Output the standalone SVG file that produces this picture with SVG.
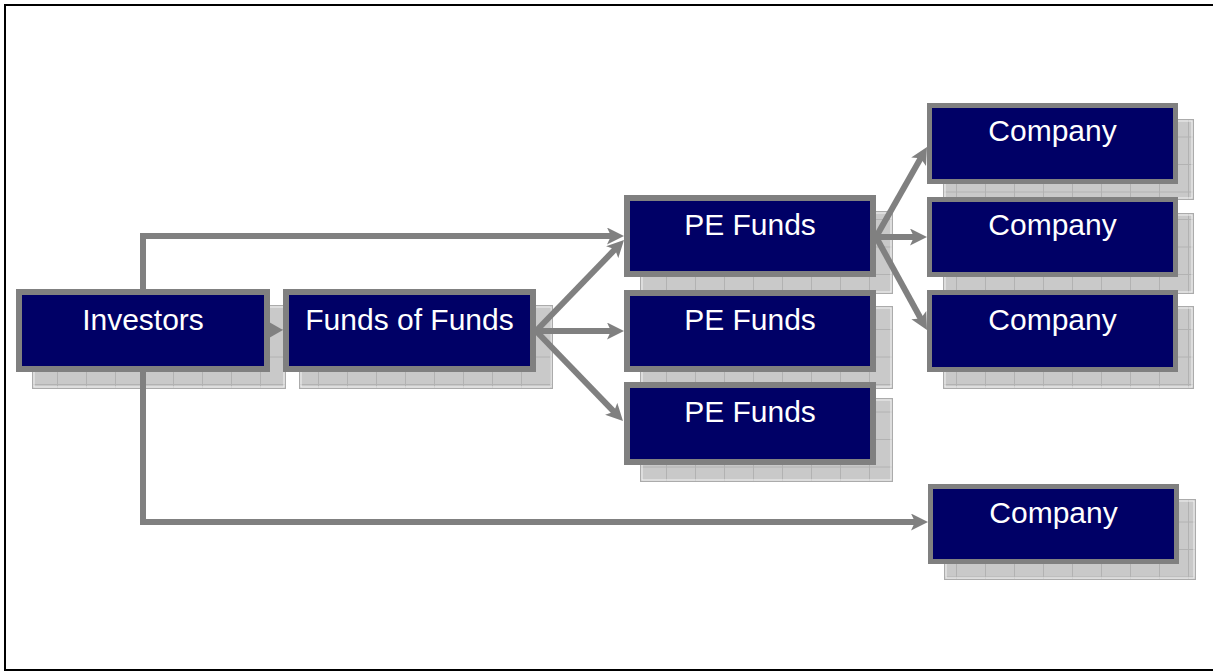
<svg xmlns="http://www.w3.org/2000/svg" width="1213" height="671" viewBox="0 0 1213 671">
  <style>
    .shadow { fill: url(#grid); stroke: #ababab; stroke-width: 1; }
    .shadow-edge { fill: none; stroke: #f2f2f2; stroke-width: 1; }
    .box { fill: #000066; stroke: #808080; stroke-width: 6; }
    .box.thin { stroke-width: 5; }
    .label { fill: #ffffff; font-family: "Liberation Sans", Arial, sans-serif; font-size: 30px; text-anchor: middle; }
    .link { fill: none; stroke: #808080; stroke-width: 6; stroke-linejoin: miter; marker-end: url(#arrow); }
  </style>
  <defs>
    <!-- tiled grey block pattern used for the drop shadows -->
    <pattern id="grid" patternUnits="userSpaceOnUse" width="29" height="27.5">
      <rect width="29" height="27.5" fill="#c9c9c9"/>
      <path d="M28.5,0 V27.5 M0,27 H29" stroke="#b2b2b2" stroke-width="1" fill="none"/>
    </pattern>
    <marker id="arrow" markerUnits="userSpaceOnUse" markerWidth="18" markerHeight="18" refX="7" refY="8.5" orient="auto">
      <path d="M0,0 L17,8.5 L0,17 L4,8.5 Z" fill="#808080"/>
    </marker>
  </defs>

  <!-- page frame -->
  <rect x="5" y="5" width="1215" height="665" fill="#ffffff" stroke="#000000" stroke-width="2"/>

  <g id="investors">
    <rect class="shadow" x="32.5" y="305.5" width="253" height="83"/>
    <rect class="shadow-edge" x="34" y="307" width="250" height="80"/>
    <rect class="box" x="19" y="292" width="248" height="77"/>
    <text class="label" x="143" y="330">Investors</text>
  </g>

  <g id="funds-of-funds">
    <rect class="shadow" x="299.5" y="305.5" width="253" height="83"/>
    <rect class="shadow-edge" x="301" y="307" width="250" height="80"/>
    <rect class="box" x="286" y="292" width="247" height="77"/>
    <text class="label" x="409.5" y="330">Funds of Funds</text>
  </g>

  <g id="pe-funds-1">
    <rect class="shadow" x="640.5" y="211.5" width="252" height="82"/>
    <rect class="shadow-edge" x="642" y="213" width="249" height="79"/>
    <rect class="box" x="627" y="198" width="246" height="76"/>
    <text class="label" x="750" y="235">PE Funds</text>
  </g>

  <g id="pe-funds-2">
    <rect class="shadow" x="640.5" y="306.5" width="252" height="82"/>
    <rect class="shadow-edge" x="642" y="308" width="249" height="79"/>
    <rect class="box" x="627" y="293" width="246" height="76"/>
    <text class="label" x="750" y="330">PE Funds</text>
  </g>

  <g id="pe-funds-3">
    <rect class="shadow" x="640.5" y="398.5" width="252" height="83"/>
    <rect class="shadow-edge" x="642" y="400" width="249" height="80"/>
    <rect class="box" x="627" y="385" width="246" height="77"/>
    <text class="label" x="750" y="422">PE Funds</text>
  </g>

  <g id="company-1">
    <rect class="shadow" x="943.5" y="119.5" width="250" height="80"/>
    <rect class="shadow-edge" x="945" y="121" width="247" height="77"/>
    <rect class="box thin" x="929.5" y="105.5" width="246" height="76"/>
    <text class="label" x="1052.5" y="141">Company</text>
  </g>

  <g id="company-2">
    <rect class="shadow" x="943.5" y="213.5" width="250" height="80"/>
    <rect class="shadow-edge" x="945" y="215" width="247" height="77"/>
    <rect class="box thin" x="929.5" y="199.5" width="246" height="75"/>
    <text class="label" x="1052.5" y="235">Company</text>
  </g>

  <g id="company-3">
    <rect class="shadow" x="943.5" y="306.5" width="250" height="82"/>
    <rect class="shadow-edge" x="945" y="308" width="247" height="79"/>
    <rect class="box thin" x="929.5" y="292.5" width="246" height="77"/>
    <text class="label" x="1052.5" y="330">Company</text>
  </g>

  <g id="company-4">
    <rect class="shadow" x="944.5" y="499.5" width="251" height="80"/>
    <rect class="shadow-edge" x="946" y="501" width="248" height="77"/>
    <rect class="box thin" x="930.5" y="486.5" width="246" height="75"/>
    <text class="label" x="1053.5" y="523">Company</text>
  </g>

  <g id="connectors">
    <path class="link" d="M143,289 V236 H614"/>
    <path class="link" d="M143,372 V522 H918"/>
    <polygon points="269,322 283,330 269,338" fill="#808080"/>
    <path class="link" d="M536,331 L617.05,247.2"/>
    <path class="link" d="M536,331 H614"/>
    <path class="link" d="M536,331 L616.05,413.8"/>
    <path class="link" d="M876,237 L922.07,155.7"/>
    <path class="link" d="M876,237 H917"/>
    <path class="link" d="M876,237 L922.19,321.23"/>
  </g>
</svg>
